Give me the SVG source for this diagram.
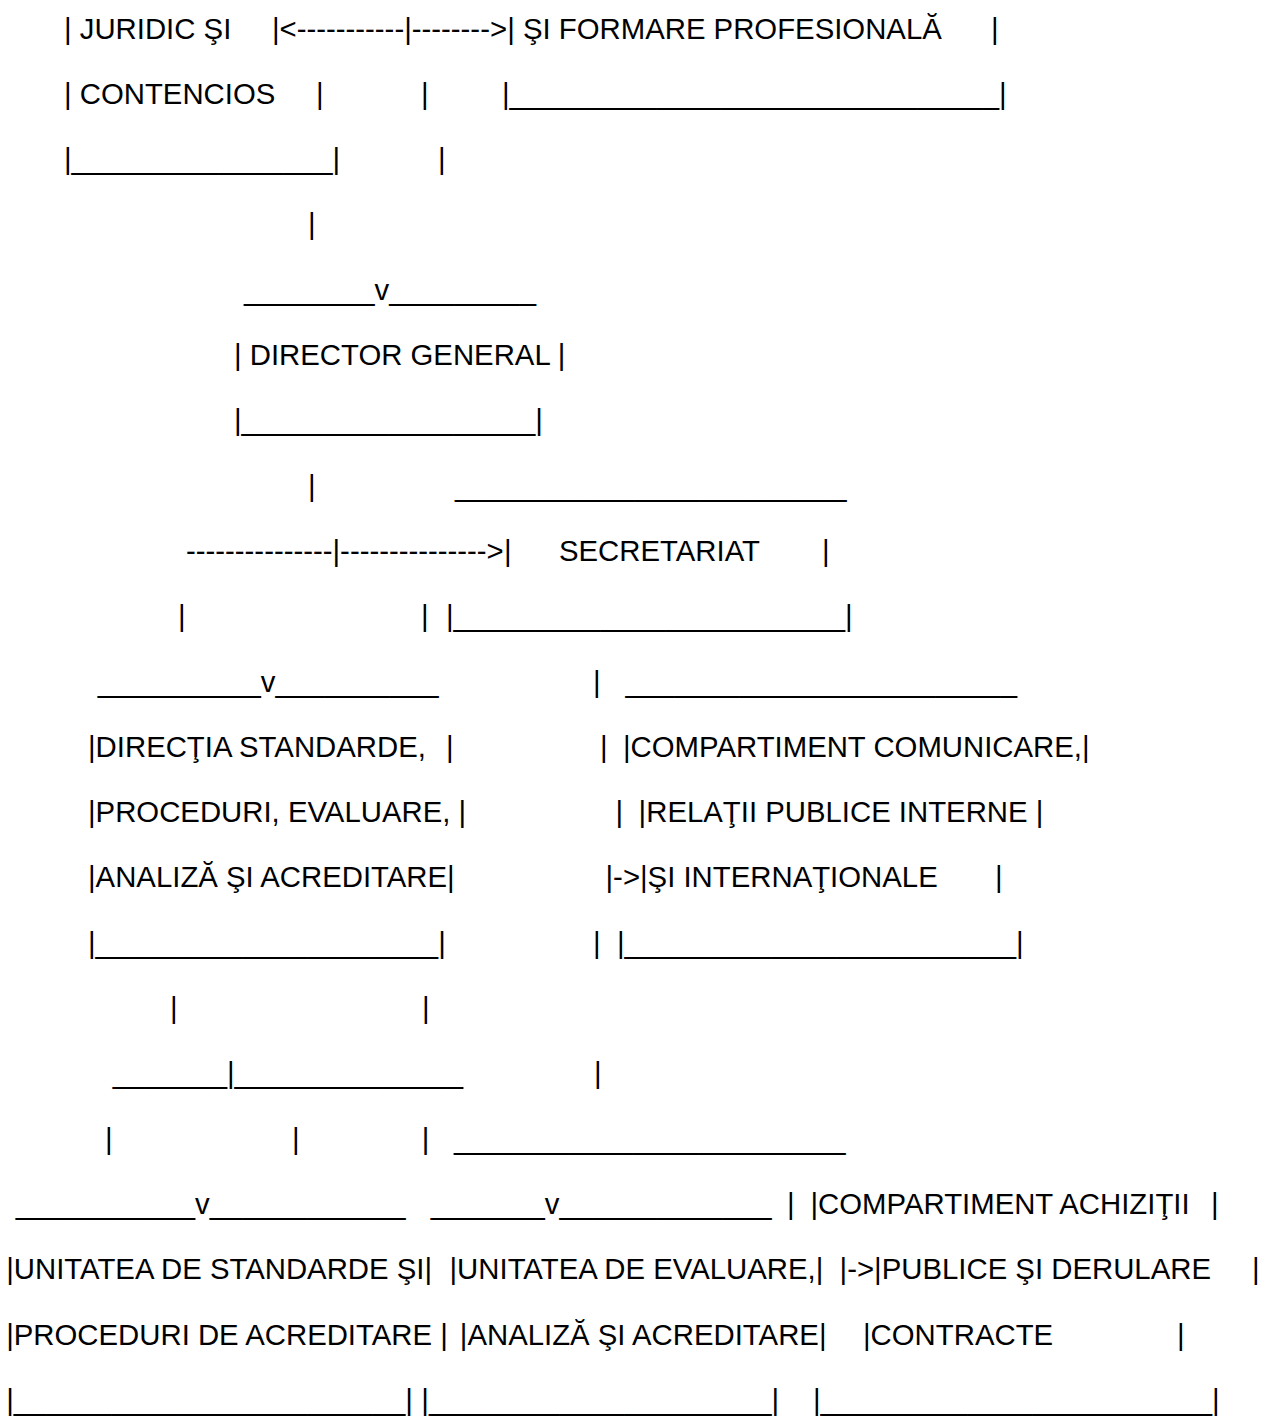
<svg xmlns="http://www.w3.org/2000/svg" width="1263" height="1416" viewBox="0 0 1263 1416" xml:space="preserve">
<style>
text { font-family: "Liberation Sans", Arial, sans-serif; font-size: 29.33px; fill: #000; white-space: pre; }
</style>
<rect x="0" y="0" width="1263" height="1416" fill="#fff"/>
<g id="node-juridic">
<text x="64" y="38.5">| JURIDIC ŞI</text>
<text x="272" y="38.5">|</text>
<text x="64" y="103.8">| CONTENCIOS</text>
<text x="316" y="103.8">|</text>
<text x="64" y="169.1">|________________|</text>
</g>
<g id="node-formare">
<text x="507.2" y="38.5">| ŞI FORMARE PROFESIONALĂ</text>
<text x="991" y="38.5">|</text>
<text x="502" y="103.8">|______________________________|</text>
</g>
<g id="node-director">
<text x="244" y="299.7">________v_________</text>
<text x="234" y="365">| DIRECTOR GENERAL |</text>
<text x="234" y="430.3">|__________________|</text>
</g>
<g id="node-secretariat">
<text x="455" y="495.6">________________________</text>
<text x="503.9" y="560.9">|</text>
<text x="559" y="560.9">SECRETARIAT</text>
<text x="822" y="560.9">|</text>
<text x="446" y="626.2">|________________________|</text>
</g>
<g id="node-directia">
<text x="97.7" y="691.5">__________v__________</text>
<text x="88" y="756.8">|DIRECŢIA STANDARDE,</text>
<text x="446" y="756.8">|</text>
<text x="88" y="822.1">|PROCEDURI, EVALUARE, |</text>
<text x="88" y="887.4">|ANALIZĂ ŞI ACREDITARE|</text>
<text x="88" y="952.7">|_____________________|</text>
</g>
<g id="node-comunicare">
<text x="625.5" y="691.5">________________________</text>
<text x="623" y="756.8">|COMPARTIMENT COMUNICARE,|</text>
<text x="638.6" y="822.1">|RELAŢII PUBLICE INTERNE |</text>
<text x="640" y="887.4">|ŞI INTERNAŢIONALE</text>
<text x="995" y="887.4">|</text>
<text x="617" y="952.7">|________________________|</text>
</g>
<g id="node-standarde">
<text x="15.7" y="1213.9">___________v____________</text>
<text x="6.2" y="1279.2">|UNITATEA DE STANDARDE ŞI|</text>
<text x="6.2" y="1344.5">|PROCEDURI DE ACREDITARE |</text>
<text x="6.2" y="1409.8">|________________________|</text>
</g>
<g id="node-evaluare">
<text x="430.7" y="1213.9">_______v_____________</text>
<text x="449.5" y="1279.2">|UNITATEA DE EVALUARE,|</text>
<text x="459.8" y="1344.5">|ANALIZĂ ŞI ACREDITARE|</text>
<text x="421.3" y="1409.8">|_____________________|</text>
</g>
<g id="node-achizitii">
<text x="454" y="1148.6">________________________</text>
<text x="810.5" y="1213.9">|COMPARTIMENT ACHIZIŢII</text>
<text x="1211" y="1213.9">|</text>
<text x="874.1" y="1279.2">|PUBLICE ŞI DERULARE</text>
<text x="1252" y="1279.2">|</text>
<text x="863" y="1344.5">|CONTRACTE</text>
<text x="1177" y="1344.5">|</text>
<text x="813" y="1409.8">|________________________|</text>
</g>
<g id="connectors">
<text x="279.6" y="38.5">&lt;-----------|--------&gt;</text>
<text x="421" y="103.8">|</text>
<text x="438" y="169.1">|</text>
<text x="308" y="234.4">|</text>
<text x="308" y="495.6">|</text>
<text x="186" y="560.9">---------------|---------------&gt;</text>
<text x="178" y="626.2">|</text>
<text x="421" y="626.2">|</text>
<text x="593" y="691.5">|</text>
<text x="600" y="756.8">|</text>
<text x="615.6" y="822.1">|</text>
<text x="605.5" y="887.4">|-&gt;</text>
<text x="593" y="952.7">|</text>
<text x="170" y="1018">|</text>
<text x="422" y="1018">|</text>
<text x="112.8" y="1083.3">_______|______________</text>
<text x="594" y="1083.3">|</text>
<text x="105" y="1148.6">|</text>
<text x="292" y="1148.6">|</text>
<text x="421.7" y="1148.6">|</text>
<text x="787" y="1213.9">|</text>
<text x="839.6" y="1279.2">|-&gt;</text>
</g>
</svg>
